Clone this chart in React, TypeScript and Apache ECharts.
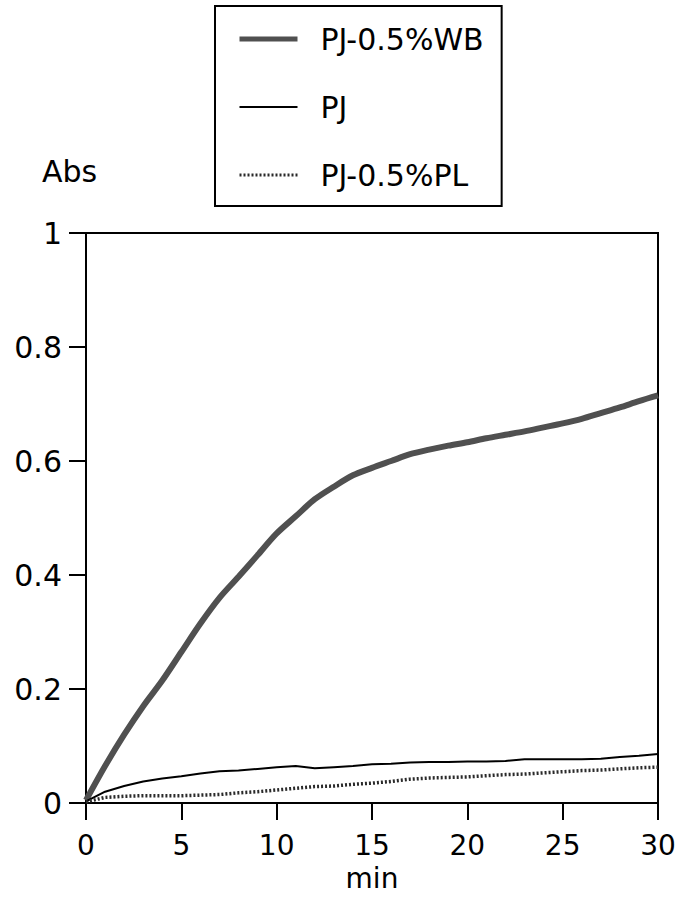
import React, { useEffect, useRef } from "react";
import * as echarts from "echarts";

const minutes = [0, 1, 2, 3, 4, 5, 6, 7, 8, 9, 10, 11, 12, 13, 14, 15, 16, 17, 18, 19, 20, 21, 22, 23, 24, 25, 26, 27, 28, 29, 30];

const wbValues = [0.005, 0.065, 0.12, 0.17, 0.215, 0.265, 0.315, 0.36, 0.397, 0.435, 0.473, 0.503, 0.533, 0.555, 0.575, 0.588, 0.6, 0.612, 0.62, 0.627, 0.633, 0.64, 0.646, 0.652, 0.659, 0.666, 0.674, 0.684, 0.694, 0.705, 0.715];

const pjValues = [0.003, 0.02, 0.03, 0.038, 0.043, 0.047, 0.052, 0.056, 0.057, 0.06, 0.063, 0.065, 0.061, 0.063, 0.065, 0.068, 0.069, 0.071, 0.072, 0.072, 0.073, 0.073, 0.074, 0.077, 0.077, 0.077, 0.077, 0.078, 0.081, 0.083, 0.086];

const plValues = [0.002, 0.01, 0.012, 0.013, 0.013, 0.013, 0.014, 0.015, 0.018, 0.02, 0.023, 0.026, 0.029, 0.03, 0.033, 0.035, 0.038, 0.042, 0.044, 0.045, 0.046, 0.048, 0.05, 0.051, 0.053, 0.055, 0.057, 0.058, 0.06, 0.062, 0.063];

const seriesNames = ["PJ-0.5%WB", "PJ", "PJ-0.5%PL"];
const xTicks = { min: 0, max: 30, interval: 5 };
const yTicks = { min: 0, max: 1, interval: 0.2 };
const yAxisTitle = "Abs";
const xAxisTitle = "min";

const FONT = "DejaVu Sans";

const lineStyles = [
  { color: "#505050", width: 6 },
  { color: "#000", width: 2 },
  { color: "#2a2a2a", width: 3.5, type: [2, 2] },
];

const pairs = (vals: number[]) => minutes.map((m, i) => [m, vals[i]]);

export default function App() {
  const ref = useRef<HTMLDivElement>(null);
  useEffect(() => {
    if (!ref.current) return;
    const chart = echarts.init(ref.current, null, { renderer: "svg" });
    chart.setOption({
      animation: false,
      backgroundColor: "#ffffff",
      textStyle: { fontFamily: FONT, color: "#000" },
      grid: {
        left: 86,
        right: 21,
        top: 233,
        bottom: 89,
        show: true,
        borderColor: "#000",
        borderWidth: 2,
        backgroundColor: "transparent",
      },
      legend: {
        orient: "vertical",
        left: 215,
        top: 6,
        padding: [18, 18, 16, 22],
        itemWidth: 58,
        itemHeight: 30,
        itemGap: 38,
        borderColor: "#000",
        borderWidth: 2,
        itemStyle: { opacity: 0 },
        data: seriesNames.map((n, i) => ({
          name: n,
          lineStyle: { ...lineStyles[i], width: i === 0 ? 5 : i === 1 ? 2 : 3 },
          itemStyle: { opacity: 0 },
        })),
        textStyle: { fontSize: 30, fontFamily: FONT, color: "#000", padding: [0, 0, 0, 18] },
      },
      xAxis: {
        type: "value",
        min: xTicks.min,
        max: xTicks.max,
        interval: xTicks.interval,
        name: xAxisTitle,
        nameLocation: "middle",
        nameGap: 42,
        nameTextStyle: { fontSize: 28, fontFamily: FONT, color: "#000" },
        axisLine: { show: true, lineStyle: { color: "#000", width: 2 } },
        axisTick: { show: true, inside: false, length: 17, lineStyle: { color: "#000", width: 2 } },
        axisLabel: { fontSize: 28, fontFamily: FONT, color: "#000", margin: 28 },
        splitLine: { show: false },
      },
      yAxis: {
        type: "value",
        min: yTicks.min,
        max: yTicks.max,
        interval: yTicks.interval,
        axisLine: { show: true, lineStyle: { color: "#000", width: 2 } },
        axisTick: { show: true, inside: false, length: 17, lineStyle: { color: "#000", width: 2 } },
        axisLabel: { fontSize: 30, fontFamily: FONT, color: "#000", margin: 24 },
        splitLine: { show: false },
      },
      graphic: [
        {
          type: "text",
          left: 42,
          top: 156,
          style: { text: yAxisTitle, fontSize: 30, fontFamily: FONT, fill: "#000" },
        },
      ],
      series: [
        {
          name: seriesNames[0],
          type: "line",
          data: pairs(wbValues),
          symbol: "none",
          smooth: 0.3,
          lineStyle: lineStyles[0],
          itemStyle: { color: lineStyles[0].color },
        },
        {
          name: seriesNames[1],
          type: "line",
          data: pairs(pjValues),
          symbol: "none",
          lineStyle: lineStyles[1],
          itemStyle: { color: lineStyles[1].color },
        },
        {
          name: seriesNames[2],
          type: "line",
          data: pairs(plValues),
          symbol: "none",
          lineStyle: lineStyles[2],
          itemStyle: { color: lineStyles[2].color },
        },
      ],
    });
    return () => chart.dispose();
  }, []);
  return (
    <div
      ref={ref}
      style={{ position: "fixed", left: 0, top: 0, width: 679, height: 897, background: "#fff" }}
    />
  );
}
